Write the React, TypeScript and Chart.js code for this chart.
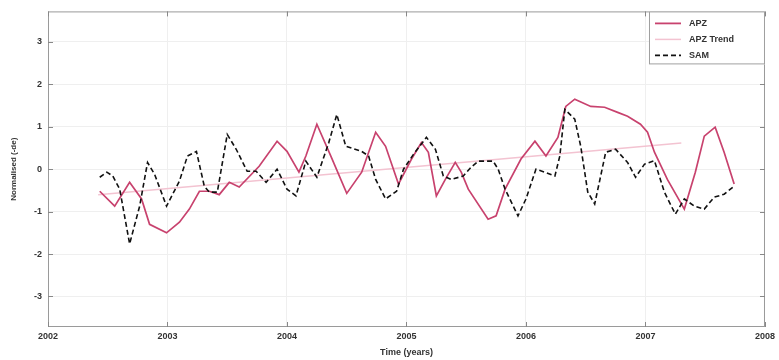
import React, { useEffect, useRef } from 'react';
import { Chart, registerables } from 'chart.js';

Chart.register(...registerables);

// ---- data ----
const apzYears = [
  2002.433, 2002.558, 2002.683, 2002.783, 2002.85, 2002.992, 2003.1, 2003.183, 2003.267, 2003.35,
  2003.433, 2003.517, 2003.6, 2003.767, 2003.917, 2004.0, 2004.1, 2004.158, 2004.25, 2004.367,
  2004.5, 2004.625, 2004.742, 2004.825, 2004.933, 2005.042, 2005.125, 2005.183, 2005.25, 2005.325,
  2005.408, 2005.458, 2005.517, 2005.683, 2005.75, 2005.825, 2005.958, 2006.075, 2006.167, 2006.267,
  2006.333, 2006.408, 2006.542, 2006.658, 2006.767, 2006.85, 2006.958, 2007.017, 2007.075, 2007.183,
  2007.325, 2007.417, 2007.492, 2007.583, 2007.658, 2007.742,
];
const apzValues = [
  -0.52, -0.87, -0.31, -0.7, -1.3, -1.5, -1.25, -0.94, -0.52, -0.52,
  -0.6, -0.31, -0.42, 0.07, 0.66, 0.42, -0.07, 0.31, 1.06, 0.31,
  -0.57, -0.07, 0.87, 0.54, -0.35, 0.24, 0.63, 0.4, -0.63, -0.24,
  0.16, -0.07, -0.47, -1.18, -1.1, -0.47, 0.24, 0.66, 0.31, 0.75,
  1.48, 1.65, 1.48, 1.46, 1.34, 1.25, 1.06, 0.87, 0.4, -0.24,
  -0.94, -0.07, 0.78, 0.99, 0.4, -0.35,
];
const trendYears = [2002.42, 2007.3];
const trendValues = [-0.6, 0.62];
const samYears = [
  2002.433, 2002.492, 2002.542, 2002.6, 2002.683, 2002.767, 2002.833, 2002.892, 2002.992, 2003.1,
  2003.167, 2003.242, 2003.308, 2003.35, 2003.417, 2003.5, 2003.575, 2003.667, 2003.742, 2003.825,
  2003.917, 2004.0, 2004.075, 2004.158, 2004.25, 2004.35, 2004.417, 2004.492, 2004.625, 2004.683,
  2004.742, 2004.825, 2004.917, 2004.975, 2005.058, 2005.167, 2005.242, 2005.308, 2005.375, 2005.475,
  2005.542, 2005.6, 2005.725, 2005.767, 2005.825, 2005.933, 2006.0, 2006.083, 2006.158, 2006.242,
  2006.283, 2006.325, 2006.408, 2006.458, 2006.517, 2006.575, 2006.625, 2006.667, 2006.75, 2006.85,
  2006.917, 2006.992, 2007.075, 2007.158, 2007.25, 2007.325, 2007.408, 2007.492, 2007.575, 2007.658,
  2007.742,
];
const samValues = [
  -0.19, -0.07, -0.16, -0.47, -1.76, -0.87, 0.16, -0.12, -0.87, -0.28,
  0.31, 0.42, -0.4, -0.54, -0.54, 0.82, 0.47, -0.05, -0.05, -0.31,
  0.0, -0.47, -0.63, 0.19, -0.19, 0.63, 1.29, 0.54, 0.42, 0.31,
  -0.24, -0.7, -0.52, 0.0, 0.35, 0.75, 0.47, -0.16, -0.24, -0.16,
  0.05, 0.19, 0.19, 0.0, -0.47, -1.1, -0.7, 0.0, -0.07, -0.16,
  0.31, 1.41, 1.18, 0.54, -0.54, -0.82, -0.16, 0.4, 0.47, 0.16,
  -0.19, 0.12, 0.2, -0.54, -1.06, -0.7, -0.87, -0.94, -0.66, -0.59,
  -0.4,
];
const xTicks = [2002, 2003, 2004, 2005, 2006, 2007, 2008];
const yTicks = [-3, -2, -1, 0, 1, 2, 3];
const seriesNames = ['APZ', 'APZ Trend', 'SAM'];
const xTitle = 'Time (years)';
const yTitle = 'Normalised (-de)';

const APZ_COLOR = '#c8426e';
const TREND_COLOR = '#f3c3d1';
const SAM_COLOR = '#111111';
const FONT = "'Liberation Sans', Arial, sans-serif";

const pairs = (xs: number[], ys: number[]) => xs.map((x, i) => ({ x, y: ys[i] }));

const framePlugin = {
  id: 'frame',
  beforeDatasetsDraw(chart: any) {
    const { ctx, chartArea } = chart;
    const { left, right, top, bottom } = chartArea;
    ctx.save();
    ctx.strokeStyle = '#9a9a9a';
    ctx.lineWidth = 1;
    ctx.strokeRect(left + 0.5, top + 0.5, right - left - 1, bottom - top - 1);
    // small inward tick marks
    ctx.strokeStyle = '#888';
    const ys = chart.scales.y;
    const xs = chart.scales.x;
    yTicks.forEach((v) => {
      const py = Math.round(ys.getPixelForValue(v)) + 0.5;
      ctx.beginPath();
      ctx.moveTo(left, py); ctx.lineTo(left + 5, py);
      ctx.moveTo(right, py); ctx.lineTo(right - 5, py);
      ctx.stroke();
    });
    xTicks.forEach((v) => {
      const px = Math.round(xs.getPixelForValue(v)) + 0.5;
      ctx.beginPath();
      ctx.moveTo(px, bottom); ctx.lineTo(px, bottom - 5);
      ctx.moveTo(px, top); ctx.lineTo(px, top + 5);
      ctx.stroke();
    });
    ctx.restore();
  },
};

const legendPlugin = {
  id: 'innerLegend',
  afterDraw(chart: any) {
    const { ctx, chartArea } = chart;
    const w = 116;
    const h = 53;
    const x0 = chartArea.right - w;
    const y0 = chartArea.top;
    ctx.save();
    ctx.fillStyle = '#ffffff';
    ctx.fillRect(x0, y0, w, h);
    ctx.strokeStyle = '#a0a0a0';
    ctx.lineWidth = 1;
    ctx.strokeRect(x0 + 0.5, y0 + 0.5, w - 1, h - 1);
    const styles = [
      { color: APZ_COLOR, dash: [] as number[], width: 1.8 },
      { color: TREND_COLOR, dash: [] as number[], width: 1.5 },
      { color: SAM_COLOR, dash: [5, 3], width: 1.6 },
    ];
    ctx.font = `bold 9px ${FONT}`;
    ctx.textBaseline = 'middle';
    ctx.textAlign = 'left';
    seriesNames.forEach((name, i) => {
      const yy = y0 + 12 + i * 16;
      const s = styles[i];
      ctx.beginPath();
      ctx.setLineDash(s.dash);
      ctx.strokeStyle = s.color;
      ctx.lineWidth = s.width;
      ctx.moveTo(x0 + 6, yy);
      ctx.lineTo(x0 + 32, yy);
      ctx.stroke();
      ctx.setLineDash([]);
      ctx.fillStyle = '#333';
      ctx.fillText(name, x0 + 40, yy);
    });
    ctx.restore();
  },
};

export default function App() {
  const canvasRef = useRef<HTMLCanvasElement | null>(null);

  useEffect(() => {
    document.body.style.margin = '0';
    const canvas = canvasRef.current;
    if (!canvas) return;
    const chart = new Chart(canvas, {
      type: 'line',
      data: {
        datasets: [
          {
            label: seriesNames[0],
            data: pairs(apzYears, apzValues),
            borderColor: APZ_COLOR,
            borderWidth: 1.7,
            pointRadius: 0,
            tension: 0,
            order: 1,
          },
          {
            label: seriesNames[1],
            data: pairs(trendYears, trendValues),
            borderColor: TREND_COLOR,
            borderWidth: 1.5,
            pointRadius: 0,
            tension: 0,
            order: 2,
          },
          {
            label: seriesNames[2],
            data: pairs(samYears, samValues),
            borderColor: SAM_COLOR,
            borderWidth: 1.6,
            borderDash: [5, 3],
            pointRadius: 0,
            tension: 0,
            order: 0,
          },
        ],
      },
      options: {
        animation: false,
        responsive: false,
        maintainAspectRatio: false,
        layout: { padding: { top: 11, right: 11, left: 0, bottom: 0 } },
        plugins: { legend: { display: false }, tooltip: { enabled: false } },
        scales: {
          x: {
            type: 'linear',
            min: 2002,
            max: 2008,
            afterBuildTicks: (axis: any) => {
              axis.ticks = xTicks.map((v) => ({ value: v }));
            },
            afterFit: (scale: any) => {
              scale.height = 33;
            },
            ticks: {
              callback: (v: any) => String(v),
              font: { family: FONT, size: 9, weight: 'bold' },
              color: '#333',
              padding: 4,
              maxRotation: 0,
            },
            grid: { color: '#efefef', drawTicks: false },
            border: { display: false },
            title: {
              display: true,
              text: xTitle,
              font: { family: FONT, size: 9, weight: 'bold' },
              color: '#333',
              padding: { top: 2, bottom: 2 },
            },
          },
          y: {
            type: 'linear',
            min: -3.72,
            max: 3.72,
            afterBuildTicks: (axis: any) => {
              axis.ticks = yTicks.map((v) => ({ value: v }));
            },
            afterFit: (scale: any) => {
              scale.width = 48;
            },
            ticks: {
              callback: (v: any) => String(v),
              font: { family: FONT, size: 9, weight: 'bold' },
              color: '#333',
              padding: 6,
            },
            grid: { color: '#efefef', drawTicks: false },
            border: { display: false },
            title: {
              display: true,
              text: yTitle,
              font: { family: FONT, size: 8, weight: 'bold' },
              color: '#333',
              padding: { top: 9, bottom: 0 },
            },
          },
        },
      },
      plugins: [framePlugin, legendPlugin],
    });
    return () => chart.destroy();
  }, []);

  return (
    <div style={{ width: 779, height: 360, background: '#fff' }}>
      <canvas ref={canvasRef} width={779} height={360} style={{ display: 'block' }} />
    </div>
  );
}
